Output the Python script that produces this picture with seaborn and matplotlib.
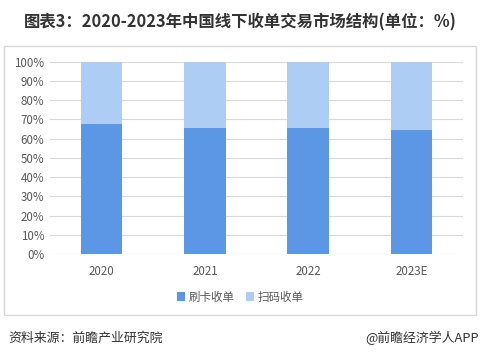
import matplotlib
matplotlib.use("Agg")
import matplotlib.pyplot as plt
import seaborn as sns
import pandas as pd
from matplotlib.patches import Rectangle, Patch

categories = ["2020", "2021", "2022", "2023E"]
card = [67.6, 65.5, 65.5, 64.5]
qr = [32.4, 34.5, 34.5, 35.5]
series_names = ["刷卡收单", "扫码收单"]
yticks = [0, 10, 20, 30, 40, 50, 60, 70, 80, 90, 100]

sns.set_theme(style="white")
plt.rcParams['font.family'] = ['Noto Sans CJK SC', 'DejaVu Sans']

dark = "#5B97E5"
light = "#ADCDF5"

df = pd.DataFrame({"cat": categories, "card": card, "qr": qr})
df["total"] = df["card"] + df["qr"]

fig = plt.figure(figsize=(4.81, 3.6), dpi=100)
ax = fig.add_axes([50/481, 1-254/360, (463-50)/481, (254-61.7)/360])

# outer frame
fig.patches.append(Rectangle((4/481, 1-315/360), (476.5-4)/481, (315-46)/360,
                             transform=fig.transFigure, fill=False,
                             edgecolor="#D9D9D9", linewidth=1.0, zorder=0))

sns.barplot(data=df, x="cat", y="total", color=light, width=0.4, ax=ax,
            saturation=1, zorder=3, linewidth=0, edgecolor="none")
sns.barplot(data=df, x="cat", y="card", color=dark, width=0.4, ax=ax,
            saturation=1, zorder=3, linewidth=0, edgecolor="none")

ax.set_ylim(0, 100)
ax.set_yticks(yticks)
ax.set_yticklabels([f"{v}%" for v in yticks])
ax.yaxis.grid(True, color="#D9D9D9", linewidth=0.8, zorder=0)
ax.set_axisbelow(True)
for s in ax.spines.values():
    s.set_visible(False)
ax.set_xlabel("")
ax.set_ylabel("")
ax.tick_params(axis="both", length=0, labelsize=8.3, colors="#595959", pad=4)
ax.tick_params(axis="x", pad=8)

handles = [Patch(facecolor=dark, edgecolor="none"), Patch(facecolor=light, edgecolor="none")]
fig.legend(handles, series_names, loc="center", bbox_to_anchor=(240/481, 1-297/360),
           ncol=2, frameon=False, fontsize=8.3, handlelength=0.7, handleheight=0.7,
           handletextpad=0.3, columnspacing=1.0, labelcolor="#595959")

fig.text(0.5, 1-22/360, "图表3：2020-2023年中国线下收单交易市场结构(单位：%)",
         ha="center", va="center", fontsize=11.8, fontweight="bold", color="#333333")
fig.text(8/481, 1-338/360, "资料来源：前瞻产业研究院", ha="left", va="center",
         fontsize=9.3, color="#333333")
fig.text(479/481, 1-338/360, "@前瞻经济学人APP", ha="right", va="center",
         fontsize=9.3, color="#333333")

fig.savefig("out.png", dpi=100)
